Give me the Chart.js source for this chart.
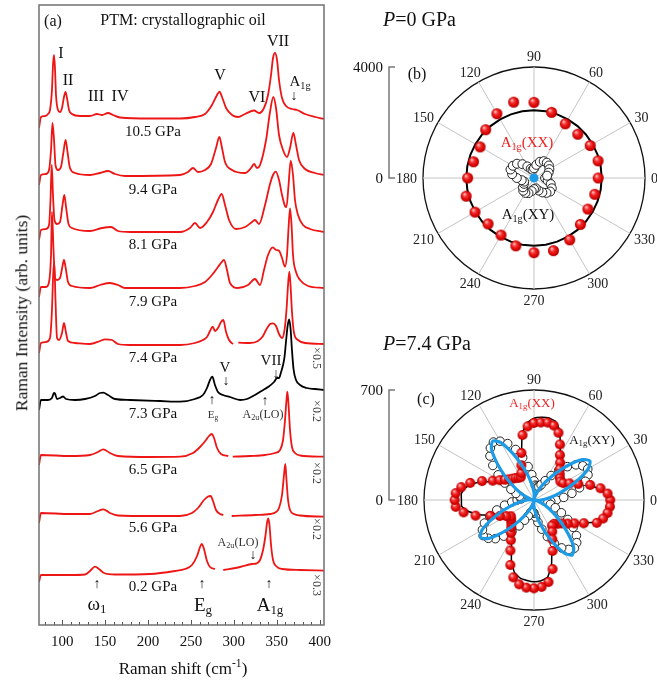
<!DOCTYPE html>
<html><head><meta charset="utf-8">
<script src="https://cdn.jsdelivr.net/npm/chart.js@4.4.1/dist/chart.umd.min.js"></script>
<style>
html,body{margin:0;padding:0;background:#fff;}
#wrap{position:relative;width:657px;height:681px;overflow:hidden;font-family:"Liberation Serif","Times New Roman",serif;color:#111;background:#fff;}
canvas{position:absolute;}
.t{position:absolute;transform:translate(-50%,-50%);white-space:nowrap;line-height:1;}
.l{position:absolute;transform:translate(0,-50%);white-space:nowrap;line-height:1;}
.r90{position:absolute;transform:translate(-50%,-50%) rotate(90deg);white-space:nowrap;line-height:1;font-size:12px;color:#444;}
.rm90{position:absolute;transform:translate(-50%,-50%) rotate(-90deg);white-space:nowrap;line-height:1;}
sub{font-size:68%;vertical-align:-0.3em;line-height:0;}
sup{font-size:68%;vertical-align:0.55em;line-height:0;}
.red{color:#ee2222;}
.ar{font-size:14px;}
</style></head><body>
<div id="wrap">
<canvas id="ca" width="345" height="681" style="left:0;top:0;"></canvas>
<canvas id="cb" width="323" height="300" style="left:334px;top:28px;"></canvas>
<canvas id="cc" width="323" height="300" style="left:334px;top:350px;"></canvas>

<div class="t" style="left:53px;top:21px;font-size:16px;">(a)</div>
<div class="t" style="left:183px;top:20px;font-size:16px;">PTM: crystallographic oil</div>
<div class="t" style="left:61px;top:53px;font-size:16px;">I</div>
<div class="t" style="left:68px;top:80px;font-size:16px;">II</div>
<div class="t" style="left:96px;top:96px;font-size:16px;">III</div>
<div class="t" style="left:120px;top:96px;font-size:16px;">IV</div>
<div class="t" style="left:220px;top:75px;font-size:16px;">V</div>
<div class="t" style="left:257px;top:97px;font-size:16px;">VI</div>
<div class="t" style="left:278px;top:41px;font-size:16px;">VII</div>
<div class="t" style="left:300px;top:81px;font-size:15px;">A<sub>1g</sub></div>
<div class="t ar" style="left:294px;top:96px;">↓</div>

<div class="t" style="left:153px;top:131px;font-size:15px;">10.5 GPa</div>
<div class="t" style="left:153px;top:189px;font-size:15px;">9.4 GPa</div>
<div class="t" style="left:153px;top:244px;font-size:15px;">8.1 GPa</div>
<div class="t" style="left:153px;top:301px;font-size:15px;">7.9 GPa</div>
<div class="t" style="left:153px;top:357px;font-size:15px;">7.4 GPa</div>
<div class="t" style="left:153px;top:413px;font-size:15px;">7.3 GPa</div>
<div class="t" style="left:153px;top:469px;font-size:15px;">6.5 GPa</div>
<div class="t" style="left:153px;top:527px;font-size:15px;">5.6 GPa</div>
<div class="t" style="left:153px;top:586px;font-size:15px;">0.2 GPa</div>

<div class="t" style="left:225px;top:367px;font-size:15px;">V</div>
<div class="t ar" style="left:226px;top:381px;">↓</div>
<div class="t" style="left:271px;top:360px;font-size:15px;">VII</div>
<div class="t ar" style="left:276px;top:374px;">↓</div>
<div class="t ar" style="left:212px;top:400px;">↑</div>
<div class="t" style="left:213px;top:414px;font-size:11px;color:#333;">E<sub>g</sub></div>
<div class="t ar" style="left:265px;top:401px;">↑</div>
<div class="t" style="left:263px;top:414px;font-size:12px;color:#333;">A<sub>2u</sub>(LO)</div>
<div class="t" style="left:238px;top:542px;font-size:12px;color:#333;">A<sub>2u</sub>(LO)</div>
<div class="t ar" style="left:253px;top:555px;">↓</div>
<div class="t ar" style="left:97px;top:584px;">↑</div>
<div class="t" style="left:97px;top:603px;font-size:19px;">ω<sub>1</sub></div>
<div class="t ar" style="left:202px;top:584px;">↑</div>
<div class="t" style="left:203px;top:604px;font-size:19px;">E<sub>g</sub></div>
<div class="t ar" style="left:269px;top:584px;">↑</div>
<div class="t" style="left:270px;top:604px;font-size:19px;">A<sub>1g</sub></div>

<div class="r90" style="left:317px;top:358px;">×0.5</div>
<div class="r90" style="left:317px;top:411px;">×0.2</div>
<div class="r90" style="left:317px;top:473px;">×0.2</div>
<div class="r90" style="left:317px;top:529px;">×0.2</div>
<div class="r90" style="left:317px;top:585px;">×0.3</div>

<div class="rm90" style="left:22px;top:313px;font-size:17.5px;">Raman Intensity (arb. units)</div>
<div class="t" style="left:183px;top:668px;font-size:17px;">Raman shift (cm<sup>-1</sup>)</div>

<div class="l" style="left:383px;top:19px;font-size:20px;"><i>P</i>=0 GPa</div>
<div class="t" style="left:417px;top:74px;font-size:16px;">(b)</div>
<div class="t red" style="left:527px;top:142px;font-size:15px;">A<sub>1g</sub>(XX)</div>
<div class="t" style="left:528px;top:214px;font-size:15px;">A<sub>1g</sub>(XY)</div>

<div class="l" style="left:383px;top:343px;font-size:20px;"><i>P</i>=7.4 GPa</div>
<div class="t" style="left:426px;top:399px;font-size:16px;">(c)</div>
<div class="t red" style="left:532px;top:402px;font-size:13px;">A<sub>1g</sub>(XX)</div>
<div class="t" style="left:592px;top:439px;font-size:13px;">A<sub>1g</sub>(XY)</div>
</div>

<script>
// ---------- Panel (a): Raman spectra, [Raman shift cm-1, intensity arb. units] ----------
const shiftTicks = [100,150,200,250,300,350,400];
const s10_5 = [[73,497],[75.3,508],[80,509],[83.5,511],[85.8,515],[88.1,535],[89.3,560],[90.5,570],[91.6,557],[92.8,530],[95.1,515],[97.5,513],[99.8,517],[102.1,528],[103.9,533],[105.6,527],[108,515],[111.4,511],[120.8,509],[132.4,509],[140.6,511],[146.4,510],[153.4,512],[159.2,510],[167.4,507.5],[202.3,506.5],[237.3,506.5],[254.7,508],[266.4,511],[274.5,520],[280.4,530],[283.3,533.3],[286.2,528],[290.9,517],[297.9,510],[304.8,508],[313,511],[323.5,514.5],[329.3,512],[335.1,517],[339.8,530],[343.3,550],[345.6,567],[347.9,572],[350.3,565],[352.6,545],[356.1,527],[360.8,519],[367.7,516],[373.6,515],[382.9,511],[394.5,508],[405,506]];
const s9_4 = [[73,440],[75.3,450],[81.2,451],[84.7,455],[87,475],[88.7,502],[90.5,485],[92.2,460],[95.1,455],[98.6,458],[101.5,473],[104,485],[106.2,473],[109.1,457],[114.9,452],[132.4,450],[144.1,452],[153.4,454],[161.5,451],[173.2,449],[237.3,450],[246.6,453],[252.4,457],[258.2,453],[266.4,455],[273.4,461],[279.2,477],[283.1,488],[286.2,477],[289.7,463],[297.9,455],[313,452],[320,457],[323.5,461],[327,457],[330.5,460],[337.5,485],[342.1,513],[346,528],[349.1,517],[352.6,490],[357.3,475],[361.9,468],[365.4,477],[369.3,492],[372.4,480],[375.9,465],[382.9,456],[394.5,452],[405,450]];
const s8_1 = [[73,385],[75.3,395],[81.2,396],[84.7,400],[86.4,425],[87.8,460],[89.3,430],[91,405],[94,401],[97.5,403],[100.4,420],[102.5,430],[104.5,418],[107.4,401],[111.4,397],[132.4,394],[146.4,397],[156.9,398],[165,394],[179,393],[237.3,393],[248.9,397],[254.7,402],[260.6,397],[268.7,403],[275.7,413],[281.5,425],[285.8,431],[289.7,420],[294.4,405],[302.5,396],[313,398],[321.2,403],[324.6,405],[329.3,401],[336.3,420],[342.1,441],[345.6,450],[348.8,453.3],[352.6,445],[356.1,430],[359.6,419],[361.3,418],[363.7,440],[366.2,464.3],[368.9,450],[371.2,425],[374.7,410],[380.6,400],[388.7,396],[405,393]];
const s7_9 = [[73,328],[75.3,338],[81.2,338],[84.7,343],[87,370],[88.1,413],[89.9,375],[91.6,347],[94,345],[97.5,347],[100.4,359],[102.1,365],[103.9,358],[106.8,343],[111.4,339],[132.4,337],[144.1,340],[155.7,342],[165,340],[173.2,337],[237.3,337],[254.7,339],[266.4,343],[274.5,350],[281.5,358],[285,362],[288.5,365],[292,355],[295.5,342],[304.8,337],[316.5,340],[324.6,346],[330.5,340],[335.1,355],[339.8,370],[345.3,377.7],[349.1,375],[352.6,374.3],[356.1,367],[359.6,358.3],[361.9,370],[363.7,397],[365.4,416.7],[367.2,400],[368.9,370],[372.4,353],[377.1,345],[386.4,339],[405,337]];
const s7_4 = [[73,272],[75.3,282],[81.2,283],[85.8,287],[88.1,315],[89.5,350],[90.8,363],[92.2,325],[94,287],[96.3,285],[99.8,292],[102.1,302],[104.5,292],[106.8,284],[114.9,282],[132.4,281],[144.1,284],[149.9,285.7],[158,285],[165,281],[179,280],[237.3,280],[254.7,282],[264,285],[268.7,288],[272.2,294],[275.4,298.3],[278,294],[281.5,297],[285,303],[287.7,305],[290.9,293],[294.4,285],[299,281],[302,null],[305.2,282.3],[318.8,282],[328.1,284],[334,289],[337.5,295],[342.1,301],[345.6,301.7],[349.1,299],[352.6,291],[356.1,287],[359,295],[361.3,315],[363.1,340],[364.6,353.3],[366,340],[367.7,313],[370.1,292],[374.7,285],[382.9,282],[405,281]];
const s7_3 = [[73,215],[75.3,225],[83.5,225],[88.1,227],[90.5,232],[91.6,231.5],[94,226],[97.5,227],[101,228.5],[104.5,226],[114.9,225],[126.6,226],[138.2,229],[144.1,232],[147.9,232.3],[153.4,230],[161.5,226],[179,225],[214,224],[237.3,223.3],[254.7,226],[264,230],[268.7,237],[272.2,245],[274.9,248.3],[278,240],[281.5,233],[287.4,230],[295.5,228],[307.2,225],[315.3,226],[324.6,230],[332.8,234.3],[339.8,238],[346.8,243],[350.3,247],[352.6,247],[355,253],[357.3,260],[359,268],[360.8,284],[362.6,299],[364.4,305.7],[366.1,296],[367.6,276],[369.5,256],[372.4,245],[377.1,240],[385.2,237],[394.5,236],[405,235]];
const s6_5 = [[73,160],[75.3,170],[109.1,169],[132.4,170],[141.7,173],[147.9,175.7],[155.7,172],[165,169],[202.3,168],[237.3,168.3],[252.4,172],[260.6,178],[267.6,185],[271,189],[274.2,191],[276.9,187],[280.4,177],[285,171],[293.5,169],[296,null],[298.7,168.3],[318.8,169],[336.3,170],[347.9,172],[353.8,175],[357.3,185],[359.6,205],[361.3,225],[362.3,233.3],[363.7,220],[365.4,195],[367.7,178],[371.2,172],[377.1,169.5],[405,168.3]];
const s5_6 = [[73,102],[75.3,112],[109.1,111],[132.4,111],[141.7,114],[147.9,115.7],[155.7,112],[165,109.5],[202.3,109],[237.3,109],[251.2,112],[258.2,117],[265.2,125],[269.9,128.5],[273,129],[275.7,124],[279.2,115],[283.9,111],[287.7,110],[292,null],[297.5,109],[324.6,110],[342.1,111],[349.1,113],[352.6,117],[356.1,130],[358.4,150],[359.9,161],[361.3,145],[363.1,125],[365.4,115],[370.1,111],[377.1,109.5],[405,108.3]];
const s0_2 = [[73,43],[75.3,50],[109.1,50],[126.6,50.5],[132.4,54],[138.2,58.3],[142.9,56],[148.7,52],[161.5,50.5],[202.3,51],[231.4,54],[243.1,56],[251.2,60],[257.1,69],[260.6,78],[262.5,81],[265.2,76],[268.7,64],[272.2,58],[278,56],[283,null],[287.7,55],[307.2,58],[321.2,61],[326.6,61.7],[330.5,65],[334,75],[336.9,90],[338.6,102],[340.1,106.7],[341.5,100],[343.3,80],[345.6,65],[349.1,59],[356.1,56],[377.1,55],[405,54.3]];

// ---------- Panels (b),(c): polar data, angle in degrees ----------
const polarAngles = [0,5,10,15,20,25,30,35,40,45,50,55,60,65,70,75,80,85,90,95,100,105,110,115,120,125,130,135,140,145,150,155,160,165,170,175,180,185,190,195,200,205,210,215,220,225,230,235,240,245,250,255,260,265,270,275,280,285,290,295,300,305,310,315,320,325,330,335,340,345,350,355];
const angleLabelsShown = [0,30,60,90,120,150,180,210,240,270,300,330];
// (b) P = 0 GPa
const bXX_angles = [0,15,30,45,60,75,90,105,120,135,150,165,180,195,210,225,240,255,270,285,300,315,330,345];
const bXX_int = [2315,2390,2340,2230,2255,2450,2727,2830,2675,2460,2243,2257,2390,2530,2455,2340,2375,2530,2690,2710,2573,2366,2243,2267];
const bXY_angles = [0,10,20,30,40,50,60,70,80,90,100,110,120,130,140,150,160,170,180,190,200,210,220,230,240,250,260,270,280,290,300,310,320,330,340,350];
const bXY_int = [400,480,560,640,700,720,700,620,480,350,300,350,480,650,800,880,900,800,620,450,380,420,520,600,620,580,480,400,380,480,600,700,760,740,640,500];
const bFitXX_int = [2440,2440,2440,2440,2440,2440,2440,2440,2440,2440,2440,2440,2440,2440,2440,2440,2440,2440,2440,2440,2440,2440,2440,2440,2440,2440,2440,2440,2440,2440,2440,2440,2440,2440,2440,2440];
const bFitXY_angles = [0,30,60,90,120,150,180,210,240,270,300,330];
const bFitXY_int = [120,120,120,120,120,120,120,120,120,120,120,120];
// (c) P = 7.4 GPa
const cXX_int = [485,470,430,370,300,250,215,205,215,232,255,290,330,390,455,490,500,495,490,470,420,310,235,190,168,172,182,192,205,225,252,290,352,420,470,500,505,500,455,385,295,240,205,180,190,205,225,255,295,355,440,510,545,560,562,555,530,455,345,275,232,200,198,214,232,262,298,350,425,455,475,485];
const cXY_int = [142,190,245,300,348,379,395,379,348,300,245,190,142,107,90,85,90,95,122,162,216,279,342,396,432,450,432,396,342,279,216,162,122,95,86,83,107,142,190,245,300,348,379,395,379,348,300,245,190,142,107,83,75,76,84,108,144,192,248,304,352,384,400,384,352,304,248,192,144,108,90,107];
const cFitXX_int = [473,454,419,362,293,244,212,203,218,235,259,291,334,396,475,520,531,529,520,494,432,306,231,186,163,169,180,190,203,220,244,278,338,400,445,464,462,462,422,364,282,233,201,175,188,203,223,250,287,340,419,479,505,514,520,516,499,430,332,268,227,197,195,212,229,257,291,342,415,439,460,475];
const cFitXY_int = [43,74,113,165,234,317,399,434,399,317,234,165,113,74,43,20,0,21,46,78,119,174,247,334,421,458,421,334,247,174,119,78,46,21,0,19,41,71,108,158,224,303,382,415,382,303,224,158,108,71,41,19,0,19,42,72,111,162,230,311,392,426,392,311,230,162,111,72,42,19,0,20];

Chart.defaults.font.family = '"Liberation Serif","Times New Roman",serif';
Chart.defaults.color = '#111';

const RED = '#ee1515';
const spectra = [
  {pts:s10_5,c:RED},{pts:s9_4,c:RED},{pts:s8_1,c:RED},{pts:s7_9,c:RED},{pts:s7_4,c:RED},
  {pts:s7_3,c:'#000'},{pts:s6_5,c:RED},{pts:s5_6,c:RED},{pts:s0_2,c:RED}
];

const frameTicks = {
  id:'frameTicks',
  afterDraw(chart){
    const xs = chart.scales.x, ctx = chart.ctx, a = chart.chartArea;
    ctx.save();
    ctx.strokeStyle = '#555'; ctx.lineWidth = 1;
    xs.ticks.forEach(t => {
      const px = Math.round(xs.getPixelForValue(t.value)) + 0.5;
      const len = shiftTicks.includes(t.value) ? 5 : 3;
      ctx.beginPath(); ctx.moveTo(px, a.bottom); ctx.lineTo(px, a.bottom - len); ctx.stroke();
    });
    ctx.strokeStyle = '#707070'; ctx.lineWidth = 1.5;
    ctx.strokeRect(a.left, a.top, a.right - a.left, a.bottom - a.top);
    ctx.restore();
  }
};

new Chart(document.getElementById('ca'), {
  type:'line',
  data:{ datasets: spectra.map(s => ({
    data: s.pts.map(p => ({x:p[0], y:p[1]})),
    borderColor:s.c, borderWidth:1.8, pointRadius:0, fill:false, spanGaps:false,
    cubicInterpolationMode:'monotone'
  }))},
  options:{
    responsive:false, animation:false, devicePixelRatio:1,
    layout:{padding:{left:0,right:21,top:5,bottom:0}},
    plugins:{legend:{display:false}, tooltip:{enabled:false}},
    scales:{
      x:{type:'linear', min:73, max:405,
         ticks:{stepSize:10, includeBounds:false, autoSkip:false, maxRotation:0,
                callback:v => shiftTicks.includes(v) ? String(v) : '',
                font:{size:15}, color:'#111', padding:8},
         grid:{display:false, drawTicks:false}, border:{display:false},
         afterFit:s => { s.height = 56; }},
      y:{type:'linear', min:0, max:620,
         ticks:{display:false}, grid:{display:false, drawTicks:false}, border:{display:false},
         afterFit:s => { s.width = 39; }}
    }
  },
  plugins:[frameTicks]
});

// ---------- polar helpers ----------
const N = polarAngles.length;
const radarLabels = polarAngles.map((a,i) => polarAngles[(N - i) % N]);
function toRadar(angles, values){
  const out = polarAngles.map(() => null);
  angles.forEach((a,k) => { out[(N - a/5) % N] = values[k]; });
  return out;
}
function sphere(r){
  const cv = document.createElement('canvas');
  const d = Math.ceil(2*r + 2); cv.width = d; cv.height = d;
  const g = cv.getContext('2d');
  const c = d/2;
  const gr = g.createRadialGradient(c - r*0.35, c - r*0.4, r*0.08, c, c, r);
  gr.addColorStop(0, '#ffc4c4'); gr.addColorStop(0.35, '#f43030'); gr.addColorStop(0.8, '#d80000'); gr.addColorStop(1, '#a80000');
  g.fillStyle = gr; g.beginPath(); g.arc(c, c, r, 0, Math.PI*2); g.fill();
  return cv;
}
const polarDeco = {
  id:'polarDeco',
  afterDraw(chart, args, o){
    const s = chart.scales.r, ctx = chart.ctx;
    ctx.save();
    ctx.fillStyle = '#222'; ctx.font = '14px "Liberation Serif"';
    ctx.textAlign = 'center'; ctx.textBaseline = 'middle';
    chart.data.labels.forEach((deg, i) => {
      if (!angleLabelsShown.includes(deg)) return;
      const txt = String(deg);
      const w = ctx.measureText(txt).width, h = 10;
      const a = s.getIndexAngle(i) - Math.PI/2;
      const d = s.drawingArea + 6;
      const x = s.xCenter + Math.cos(a)*d + Math.cos(a)*w/2;
      const y = s.yCenter + Math.sin(a)*d + Math.sin(a)*h/2 + 1;
      ctx.fillText(txt, x, y);
    });
    const bx = s.xCenter - 145;
    const yTop = s.yCenter - s.getDistanceFromCenterForValue(s.max);
    const y0 = s.yCenter;
    ctx.strokeStyle = '#777'; ctx.lineWidth = 1.5;
    ctx.beginPath(); ctx.moveTo(bx + 6, yTop); ctx.lineTo(bx, yTop); ctx.lineTo(bx, y0); ctx.lineTo(bx + 6, y0); ctx.stroke();
    ctx.textAlign = 'right'; ctx.font = '15px "Liberation Serif"'; ctx.fillStyle = '#111';
    ctx.fillText(String(s.max), bx - 6, yTop + 1);
    ctx.fillText('0', bx - 6, y0 + 1);
    ctx.restore();
  }
};
function polarChart(id, max, pad, datasets){
  return new Chart(document.getElementById(id), {
    type:'radar',
    data:{labels:radarLabels, datasets},
    options:{
      responsive:false, animation:false, devicePixelRatio:1,
      layout:{padding:pad},
      plugins:{legend:{display:false}, tooltip:{enabled:false}},
      elements:{line:{tension:0}},
      scales:{ r:{
        min:0, max:max, startAngle:90,
        ticks:{display:false, stepSize:max},
        grid:{circular:true, color:'#111', lineWidth:1.3},
        angleLines:{display:true, lineWidth:1, color:c => (c.index % 6 === 0 ? '#c4c4c4' : 'rgba(0,0,0,0)')},
        pointLabels:{display:false}
      }}
    },
    plugins:[polarDeco]
  });
}
const sphB = sphere(5.5), sphC = sphere(5);

polarChart('cb', 4000, {left:89,right:12,top:39,bottom:39}, [
  {data:toRadar(bFitXY_angles, bFitXY_int), borderColor:'#1d9be6', backgroundColor:'#1d9be6', borderWidth:2.5, fill:true, pointRadius:0, spanGaps:true, order:1},
  {data:toRadar(bXX_angles, bXX_int), showLine:false, fill:false, pointStyle:sphB, pointRadius:5.5, order:2},
  {data:toRadar(bXY_angles, bXY_int), showLine:false, fill:false, pointRadius:4.5, pointBackgroundColor:'#fff', pointBorderColor:'#222', pointBorderWidth:1, order:3},
  {data:toRadar(bXY_angles, bFitXX_int), borderColor:'#000', borderWidth:2, fill:false, pointRadius:0, spanGaps:true, order:4}
]);

polarChart('cc', 700, {left:90,right:13,top:40,bottom:40}, [
  {data:toRadar(polarAngles, cFitXY_int), borderColor:'#1d9be6', borderWidth:3.2, fill:false, pointRadius:0, tension:0.25, order:1},
  {data:toRadar(polarAngles, cXX_int), showLine:false, fill:false, pointStyle:sphC, pointRadius:5, order:2},
  {data:toRadar(polarAngles, cXY_int), showLine:false, fill:false, pointRadius:4.3, pointBackgroundColor:'#fff', pointBorderColor:'#222', pointBorderWidth:1, order:3},
  {data:toRadar(polarAngles, cFitXX_int), borderColor:'#000', borderWidth:1.5, fill:false, pointRadius:0, tension:0.1, order:4}
]);
</script>
</body></html>
